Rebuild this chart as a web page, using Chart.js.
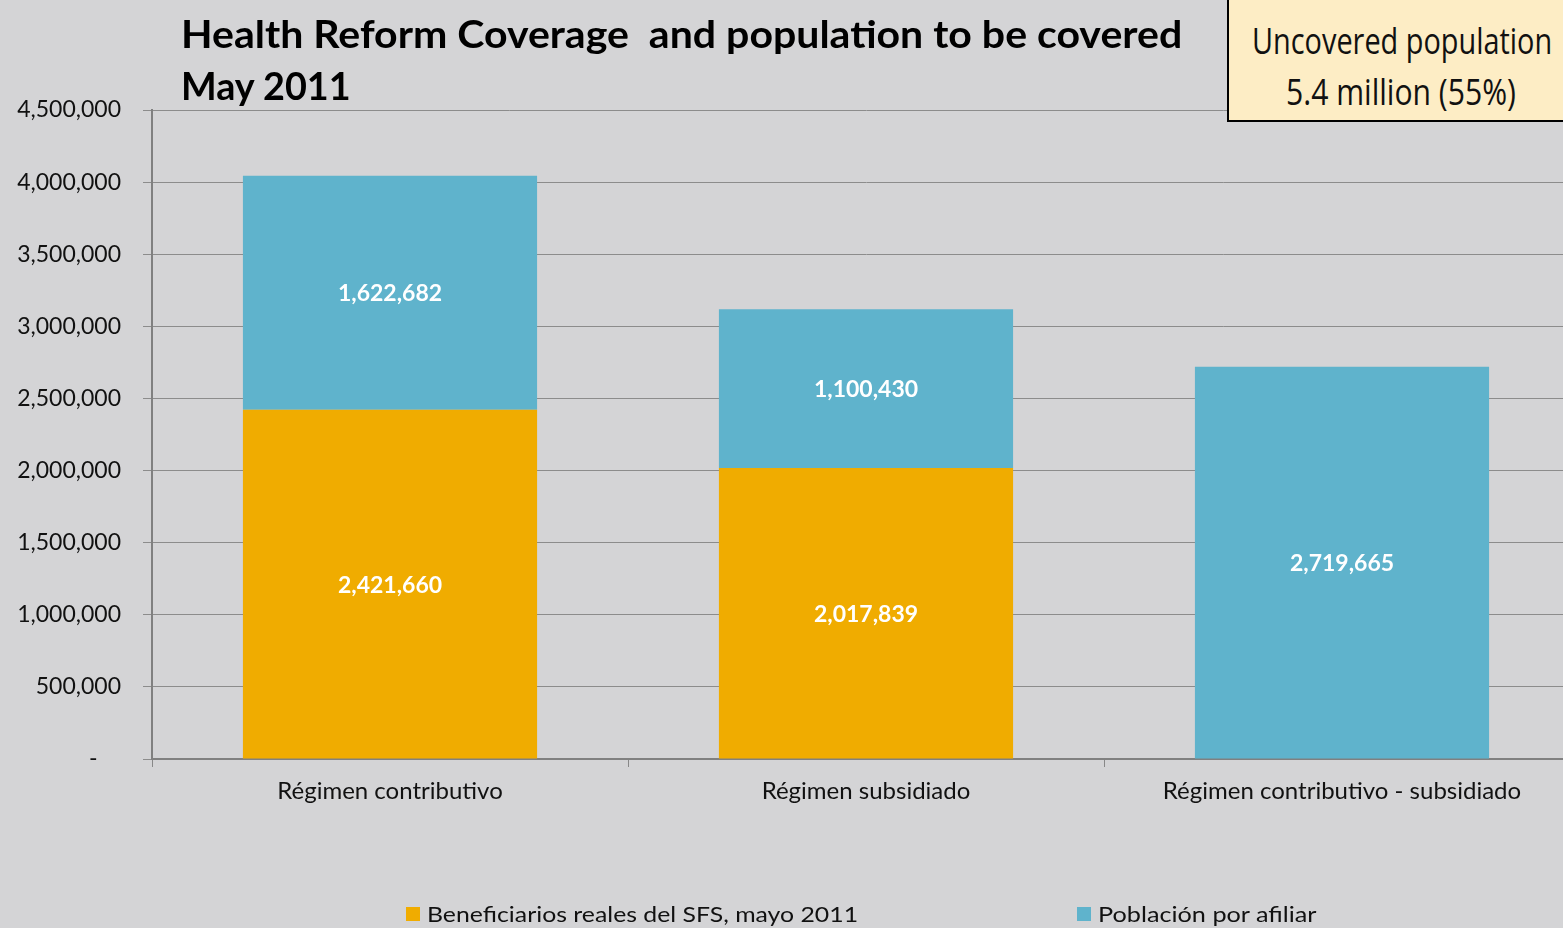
<!DOCTYPE html>
<html><head><meta charset="utf-8">
<script src="https://cdn.jsdelivr.net/npm/chart.js@4"></script>
<style>
html,body{margin:0;padding:0}
body{background:#d4d4d6;width:1563px;height:928px;overflow:hidden;position:relative;font-family:Lato,"Open Sans",sans-serif}
#c{position:absolute;left:0;top:0}
.t{position:absolute;white-space:nowrap;line-height:1;transform-origin:left center}
.title{font-weight:bold;font-size:38px;color:#000;left:181px}
#box{position:absolute;left:1227px;top:-3px;width:340px;height:125px;border:2px solid #000;background:#fdedc5;box-sizing:border-box}
.bx{font-size:36px;color:#111;font-family:"Open Sans",sans-serif;font-weight:500}
.leg{font-size:22px;color:#111}
.sq{position:absolute;width:14px;height:14px}
</style></head><body>
<canvas id="c" width="1580" height="928"></canvas>
<div class="t title" id="t1" style="top:14px" data-w="1001">Health Reform Coverage&nbsp; and population to be covered</div>
<div class="t title" id="t2" style="top:66px" data-w="170">May 2011</div>
<div id="box"></div>
<div class="t bx" id="b1" style="top:23px;left:1252px" data-w="300">Uncovered population</div>
<div class="t bx" id="b2" style="top:74px;left:1286px" data-w="230">5.4 million (55%)</div>
<div class="sq" style="left:406px;top:907px;background:#f0ac00"></div>
<div class="t leg" id="l1" style="top:903px;left:427px" data-w="431">Beneficiarios reales del SFS, mayo 2011</div>
<div class="sq" style="left:1077px;top:907px;background:#5fb3cc"></div>
<div class="t leg" id="l2" style="top:903px;left:1098px" data-w="218">Población por afiliar</div>
<script>
const categories = ['Régimen contributivo', 'Régimen subsidiado', 'Régimen contributivo - subsidiado'];
const beneficiarios = [2421660, 2017839, 0];
const porAfiliar = [1622682, 1100430, 2719665];
const seriesNames = ['Beneficiarios reales del SFS, mayo 2011', 'Población por afiliar'];
const yTicks = [0, 500000, 1000000, 1500000, 2000000, 2500000, 3000000, 3500000, 4000000, 4500000];

document.querySelectorAll('[data-w]').forEach(el => {
  const w = +el.dataset.w;
  el.style.transform = 'scaleX(' + (w / el.offsetWidth) + ')';
});

const valueLabels = {
  id: 'valueLabels',
  afterDatasetsDraw(chart) {
    const ctx = chart.ctx;
    ctx.save();
    ctx.fillStyle = '#ffffff';
    ctx.font = 'bold 23px Lato, sans-serif';
    ctx.textAlign = 'center';
    ctx.textBaseline = 'middle';
    chart.data.datasets.forEach((ds, di) => {
      const meta = chart.getDatasetMeta(di);
      meta.data.forEach((el, i) => {
        const v = ds.data[i];
        if (!v) return;
        ctx.fillText(v.toLocaleString('en-US'), el.x, (el.y + el.base) / 2 + 1);
      });
    });
    ctx.restore();
  }
};

new Chart(document.getElementById('c'), {
  type: 'bar',
  data: {
    labels: categories,
    datasets: [
      {label: seriesNames[0], data: beneficiarios, backgroundColor: '#f0ac00', barPercentage: 0.618, categoryPercentage: 1},
      {label: seriesNames[1], data: porAfiliar, backgroundColor: '#5fb3cc', barPercentage: 0.618, categoryPercentage: 1}
    ]
  },
  options: {
    responsive: false,
    animation: false,
    layout: {padding: {top: 110, left: 0, right: 0, bottom: 0}},
    plugins: {legend: {display: false}, tooltip: {enabled: false}, title: {display: false}},
    scales: {
      x: {
        stacked: true,
        afterFit(s) { s.height = 169; },
        grid: {drawOnChartArea: false, drawTicks: true, tickLength: 8, color: '#888888', offset: true},
        border: {color: '#808080', width: 2},
        ticks: {color: '#111', font: {size: 24, family: 'Lato, sans-serif'}, padding: 10}
      },
      y: {
        stacked: true,
        min: 0, max: 4500000,
        afterFit(s) { s.width = 152; },
        afterBuildTicks(s) { s.ticks = yTicks.map(v => ({value: v})); },
        grid: {color: '#8c8c8c', lineWidth: 1, tickLength: 9},
        border: {color: '#808080', width: 2},
        ticks: {
          color: '#111', font: {size: 23, family: 'Lato, sans-serif'}, padding: 22,
          callback: v => v === 0 ? '-    ' : v.toLocaleString('en-US')
        }
      }
    }
  },
  plugins: [valueLabels]
});
</script>
</body></html>
